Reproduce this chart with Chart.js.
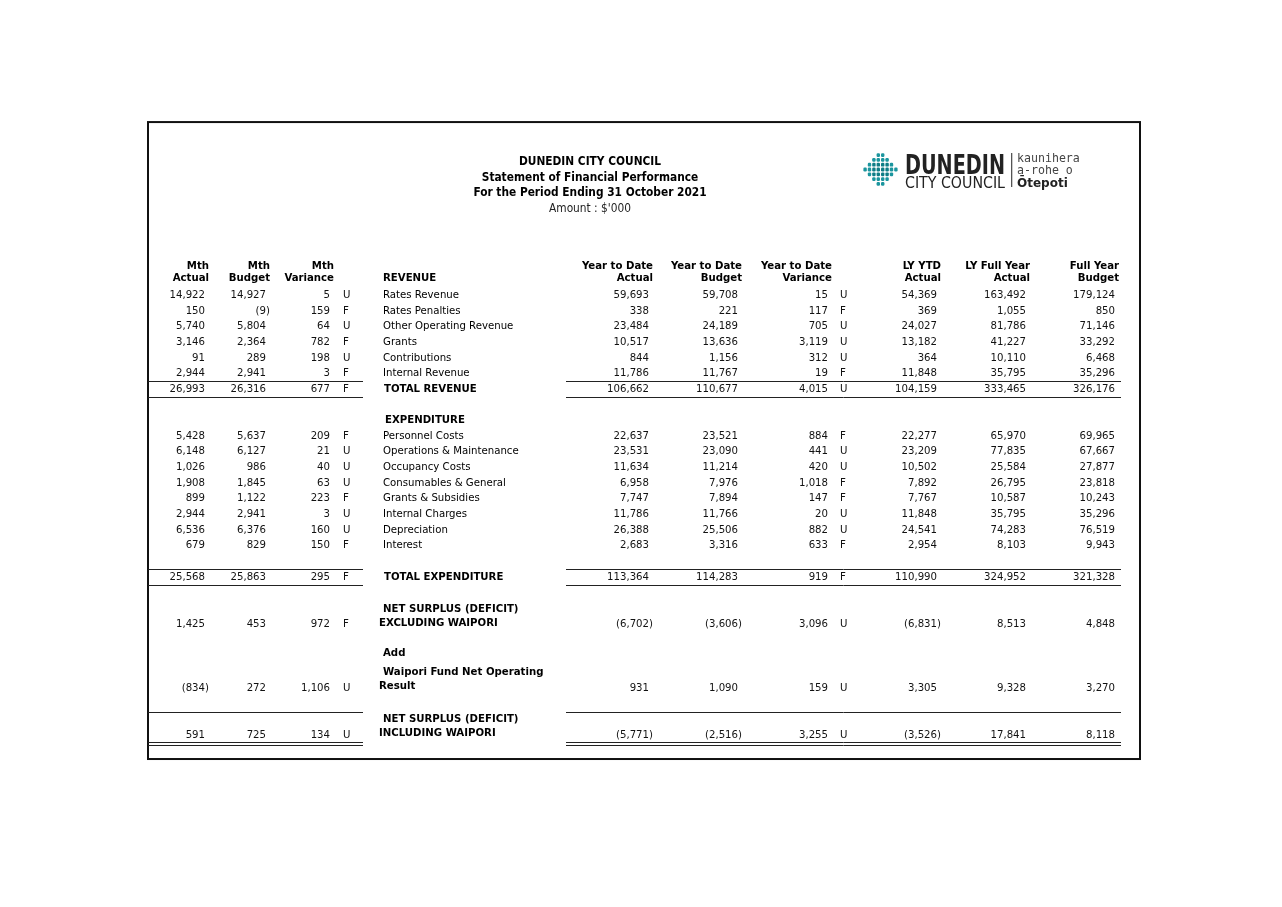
<!DOCTYPE html>
<html>
<head>
<meta charset="utf-8">
<script src="https://cdn.jsdelivr.net/npm/chart.js@4.4.1/dist/chart.umd.min.js"></script>
<style>
html,body{margin:0;padding:0;background:#fff;}
#wrap{width:1282px;height:907px;}
</style>
</head>
<body>
<div id="wrap"><canvas id="c" width="1282" height="907"></canvas></div>
<script>
// ---------- DATA ----------
const titleLines = ["DUNEDIN CITY COUNCIL", "Statement of Financial Performance", "For the Period Ending 31 October 2021", "Amount : $'000"];
const categories = ["Rates Revenue","Rates Penalties","Other Operating Revenue","Grants","Contributions","Internal Revenue","TOTAL REVENUE",
  "Personnel Costs","Operations & Maintenance","Occupancy Costs","Consumables & General","Grants & Subsidies","Internal Charges","Depreciation","Interest","TOTAL EXPENDITURE",
  "NET SURPLUS (DEFICIT)\nEXCLUDING WAIPORI","Waipori Fund Net Operating\nResult","NET SURPLUS (DEFICIT)\nINCLUDING WAIPORI"];
const mthActual   = [14922,150,5740,3146,91,2944,26993, 5428,6148,1026,1908,899,2944,6536,679,25568, 1425,-834,591];
const mthBudget   = [14927,-9,5804,2364,289,2941,26316, 5637,6127,986,1845,1122,2941,6376,829,25863, 453,272,725];
const mthVariance = [5,159,64,782,198,3,677, 209,21,40,63,223,3,160,150,295, 972,1106,134];
const mthFlag     = ["U","F","U","F","U","F","F", "F","U","U","U","F","U","U","F","F", "F","U","U"];
const ytdActual   = [59693,338,23484,10517,844,11786,106662, 22637,23531,11634,6958,7747,11786,26388,2683,113364, -6702,931,-5771];
const ytdBudget   = [59708,221,24189,13636,1156,11767,110677, 23521,23090,11214,7976,7894,11766,25506,3316,114283, -3606,1090,-2516];
const ytdVariance = [15,117,705,3119,312,19,4015, 884,441,420,1018,147,20,882,633,919, 3096,159,3255];
const ytdFlag     = ["U","F","U","U","U","F","U", "F","U","U","F","F","U","U","F","F", "U","U","U"];
const lyYtdActual = [54369,369,24027,13182,364,11848,104159, 22277,23209,10502,7892,7767,11848,24541,2954,110990, -6831,3305,-3526];
const lyFullYear  = [163492,1055,81786,41227,10110,35795,333465, 65970,77835,25584,26795,10587,35795,74283,8103,324952, 8513,9328,17841];
const fullYearBudget = [179124,850,71146,33292,6468,35296,326176, 69965,67667,27877,23818,10243,35296,76519,9943,321328, 4848,3270,8118];
const leftHeaders  = [["Mth","Actual"],["Mth","Budget"],["Mth","Variance"]];
const rightHeaders = [["Year to Date","Actual"],["Year to Date","Budget"],["Year to Date","Variance"],["LY YTD","Actual"],["LY Full Year","Actual"],["Full Year","Budget"]];
const sectionLabels = ["REVENUE","EXPENDITURE","Add"];

// ---------- LAYOUT (positions only) ----------
const rowPos = [0,1,2,3,4,5,6, 9,10,11,12,13,14,15,16,18, 21,25.1,28.1];
const boldRow = [false,false,false,false,false,false,true, false,false,false,false,false,false,false,false,true, true,true,true];
const labelLinePos = {16:[20.05,20.95],17:[24.1,25.0],18:[27.1,28.0]};
const sectionPos = [-1.05, 8, 22.9];
const colLeft = [209,270,334];
const flagLeftX = 343;
const labelX = 383;
const colRight = [653,742,832,941,1030,1119];
const flagRightX = 840;
const headerRows = [-1.88,-1.05];
const FONT = "'DejaVu Sans Condensed','DejaVu Sans',sans-serif";
const FS = 11.3;
const TFS = 11.8;

function fmt(v){
  const s = Math.abs(v).toLocaleString('en-US');
  return v < 0 ? '(' + s + ')' : s;
}

const tablePlugin = {
  id:'tablePlugin',
  afterDraw(chart){
    const ctx = chart.ctx, xs = chart.scales.x, ys = chart.scales.y;
    const X = v => xs.getPixelForValue(v), Y = v => ys.getPixelForValue(v);
    ctx.save();
    ctx.textBaseline = 'middle';
    ctx.fillStyle = '#000';
    ctx.strokeStyle = '#111'; ctx.lineWidth = 2;
    ctx.strokeRect(X(148), Y(-11.05), X(1140)-X(148), Y(29.65)-Y(-11.05));
    ctx.textAlign = 'center';
    const tRows = [-8.5,-7.5,-6.52,-5.5];
    titleLines.forEach((t,i)=>{
      ctx.font = (i<3?'bold ':'') + TFS + 'px ' + FONT;
      ctx.fillStyle = i<3 ? '#000' : '#222';
      ctx.fillText(t, X(590), Y(tRows[i]));
    });
    ctx.fillStyle = '#000';
    ctx.font = 'bold ' + FS + 'px ' + FONT;
    ctx.textAlign = 'right';
    leftHeaders.forEach((h,i)=>{ h.forEach((t,j)=>ctx.fillText(t, X(colLeft[i]), Y(headerRows[j]))); });
    rightHeaders.forEach((h,i)=>{ h.forEach((t,j)=>ctx.fillText(t, X(colRight[i]), Y(headerRows[j]))); });
    ctx.textAlign = 'left';
    sectionLabels.forEach((t,i)=>ctx.fillText(t, X(labelX+(i==1?2:0)), Y(sectionPos[i])));
    ctx.font = FS + 'px ' + FONT;
    const pw = ctx.measureText(')').width;
    const numCell = (v, edge, y) => {
      ctx.textAlign = 'right';
      ctx.fillText(fmt(v), X(edge) - (v<0?0:pw), y);
    };
    categories.forEach((cat,i)=>{
      const y = Y(rowPos[i]);
      ctx.font = FS + 'px ' + FONT;
      ctx.fillStyle = '#111';
      numCell(mthActual[i], colLeft[0], y);
      numCell(mthBudget[i], colLeft[1], y);
      numCell(mthVariance[i], colLeft[2], y);
      numCell(ytdActual[i], colRight[0], y);
      numCell(ytdBudget[i], colRight[1], y);
      numCell(ytdVariance[i], colRight[2], y);
      numCell(lyYtdActual[i], colRight[3], y);
      numCell(lyFullYear[i], colRight[4], y);
      numCell(fullYearBudget[i], colRight[5], y);
      ctx.textAlign = 'left';
      ctx.fillText(mthFlag[i], X(flagLeftX), y);
      ctx.fillText(ytdFlag[i], X(flagRightX), y);
      ctx.fillStyle = '#000';
      ctx.font = (boldRow[i]?'bold ':'') + FS + 'px ' + FONT;
      const lines = cat.split('\n');
      if (lines.length === 1) {
        ctx.fillText(cat, X(labelX + (boldRow[i]?1:0)), y);
      } else {
        lines.forEach((t,j)=>ctx.fillText(t, X(labelX - (j==1?4:0)), Y(labelLinePos[i][j])));
      }
    });
    ctx.strokeStyle = '#222'; ctx.lineWidth = 1;
    const rule = (r) => {
      const y = Math.round(Y(r)) + 0.5;
      ctx.beginPath();
      ctx.moveTo(X(148), y); ctx.lineTo(X(363), y);
      ctx.moveTo(X(566), y); ctx.lineTo(X(1121), y);
      ctx.stroke();
    };
    [5.52, 6.53, 17.5, 18.52, 26.62, 28.55, 28.75].forEach(rule);
    drawLogo(ctx);
    ctx.restore();
  }
};

function rr(ctx,x,y,w,h,r){
  ctx.beginPath();
  ctx.moveTo(x+r,y); ctx.lineTo(x+w-r,y); ctx.quadraticCurveTo(x+w,y,x+w,y+r);
  ctx.lineTo(x+w,y+h-r); ctx.quadraticCurveTo(x+w,y+h,x+w-r,y+h);
  ctx.lineTo(x+r,y+h); ctx.quadraticCurveTo(x,y+h,x,y+h-r);
  ctx.lineTo(x,y+r); ctx.quadraticCurveTo(x,y,x+r,y);
  ctx.fill();
}

function drawLogo(ctx){
  ctx.save();
  const cx = 880.5, cy = 169.5;
  for (let r=-3; r<=3; r++){
    for (let c=-4; c<4; c++){
      const dc = Math.abs(c+0.5);
      if (dc + Math.abs(r) > 3.6) continue;
      const x = cx + (c+0.5)*4.4, y = cy + r*4.8;
      ctx.fillStyle = (dc<1.6 && Math.abs(r)<=1) ? '#0f7d86' : '#1b959e';
      rr(ctx, x-1.7, y-1.9, 3.4, 3.8, 1.2);
    }
  }
  ctx.fillStyle = '#222';
  ctx.textBaseline = 'alphabetic';
  ctx.textAlign = 'left';
  ctx.font = "bold 27px 'DejaVu Sans Condensed','DejaVu Sans',sans-serif";
  let w = ctx.measureText('DUNEDIN').width;
  ctx.save(); ctx.translate(905,174); ctx.scale(100/w,1); ctx.fillText('DUNEDIN',0,0); ctx.restore();
  ctx.font = "15px 'DejaVu Sans Condensed','DejaVu Sans',sans-serif";
  w = ctx.measureText('CITY COUNCIL').width;
  ctx.save(); ctx.translate(905,188); ctx.scale(100/w,1); ctx.fillText('CITY COUNCIL',0,0); ctx.restore();
  ctx.fillStyle = '#555';
  ctx.fillRect(1011,153,1.3,34);
  ctx.fillStyle = '#444';
  ctx.font = "11.6px 'DejaVu Sans Mono',monospace";
  ctx.fillText('kaunihera', 1017, 162);
  ctx.fillText('a-rohe o', 1017, 174);
  ctx.fillStyle = '#222';
  ctx.font = "bold 12px 'DejaVu Sans','Noto Sans',sans-serif";
  ctx.fillText('\u014Ctepoti', 1017, 187);
  ctx.restore();
}

const pitch = 15.65, row0 = 295;
new Chart(document.getElementById('c'), {
  type:'scatter',
  data:{ datasets:[{ data: categories.map((c,i)=>({x:colRight[5], y:rowPos[i]})), pointRadius:0, showLine:false }] },
  options:{
    responsive:false, animation:false, devicePixelRatio:1,
    layout:{padding:0},
    plugins:{legend:{display:false}, tooltip:{enabled:false}},
    scales:{
      x:{type:'linear', min:0, max:1282, display:false},
      y:{type:'linear', reverse:true, min:-row0/pitch, max:(907-row0)/pitch, display:false}
    }
  },
  plugins:[tablePlugin]
});
</script>
</body>
</html>
